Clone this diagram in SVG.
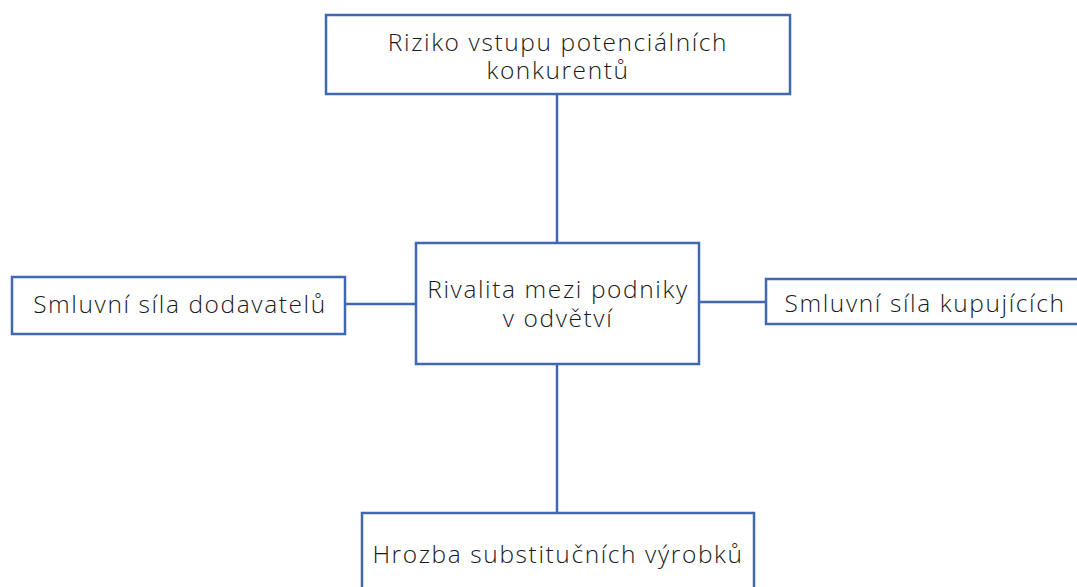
<svg xmlns="http://www.w3.org/2000/svg" width="1077" height="587" viewBox="0 0 1077 587">
<style>
.box{fill:#fff;stroke:#4068b0;stroke-width:2.5}
.ln{stroke:#4068b0;stroke-width:2.5;fill:none}
text{font-family:"Open Sans","Noto Sans",sans-serif;font-size:24.5px;font-weight:300;letter-spacing:1.6px;fill:#1a1a1a;text-anchor:middle}
</style>
<rect width="1077" height="587" fill="#fff"/>
<g id="connectors">
<line class="ln" x1="557" y1="94" x2="557" y2="243"/>
<line class="ln" x1="557" y1="364" x2="557" y2="513"/>
<line class="ln" x1="345" y1="304" x2="416" y2="304"/>
<line class="ln" x1="699" y1="302" x2="766" y2="302"/>
</g>
<g id="top">
<rect class="box" x="326" y="15" width="464" height="79"/>
<text x="558" y="51">Riziko vstupu potenciálních</text>
<text x="558" y="79">konkurentů</text>
</g>
<g id="center">
<rect class="box" x="416" y="243" width="283" height="121"/>
<text x="558" y="298">Rivalita mezi podniky</text>
<text x="558" y="327">v odvětví</text>
</g>
<g id="left">
<rect class="box" x="12" y="277" width="333" height="57"/>
<text x="180" y="313">Smluvní síla dodavatelů</text>
</g>
<g id="right">
<rect class="box" x="766" y="279" width="320" height="45"/>
<text x="925" y="312">Smluvní síla kupujících</text>
</g>
<g id="bottom">
<rect class="box" x="362" y="513" width="392" height="90"/>
<text x="558" y="563">Hrozba substitučních výrobků</text>
</g>
</svg>
